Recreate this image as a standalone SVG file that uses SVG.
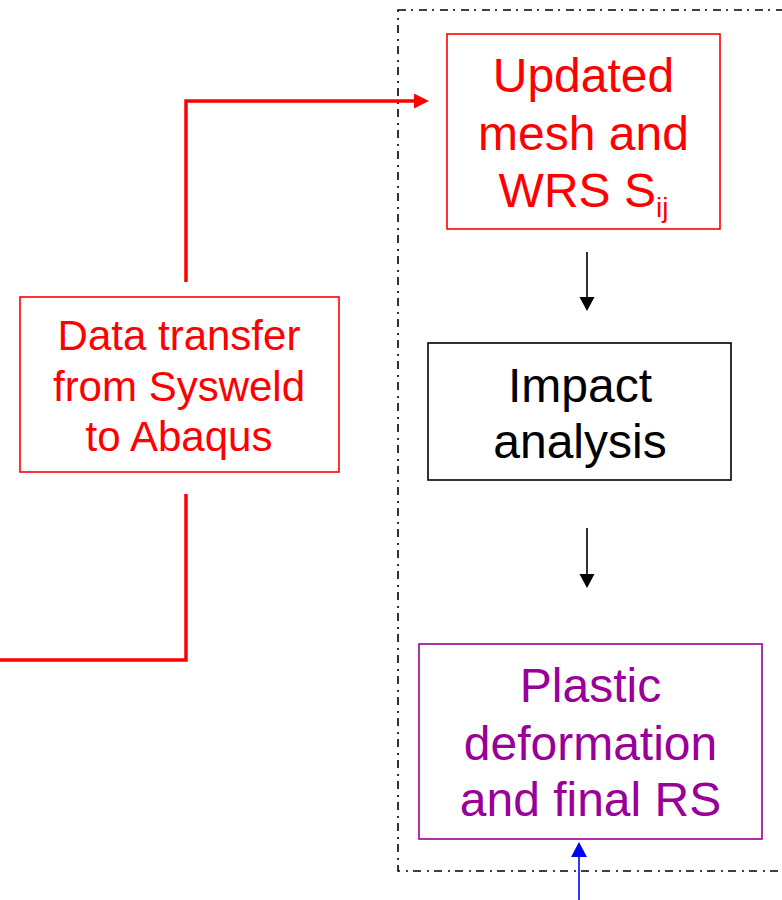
<svg xmlns="http://www.w3.org/2000/svg" width="782" height="900" viewBox="0 0 782 900">
<style>
text{font-family:"Liberation Sans",Arial,sans-serif;text-anchor:middle}
.box{fill:#fff;stroke-width:1.6}
.red{fill:#FF0000}
.pur{fill:#990099}
.blk{fill:#000}
.frame{fill:none;stroke:#000;stroke-width:1.6;stroke-dasharray:8 5 2 6}
</style>
<defs>
<marker id="ahRed" markerUnits="userSpaceOnUse" markerWidth="16" markerHeight="16" refX="0" refY="7.5" orient="auto"><path d="M0,0 L15,7.5 L0,15 Z" fill="#FF0000"/></marker>
<marker id="ahBlk" markerUnits="userSpaceOnUse" markerWidth="16" markerHeight="16" refX="0" refY="7.5" orient="auto"><path d="M0,0 L14,7.5 L0,15 Z" fill="#000"/></marker>
<marker id="ahBlue" markerUnits="userSpaceOnUse" markerWidth="16" markerHeight="17" refX="0" refY="8" orient="auto"><path d="M0,0 L15,8 L0,16 Z" fill="#0000FF"/></marker>
</defs>
<rect class="frame" x="398" y="10" width="400" height="861"/>
<g id="connectors">
<polyline points="186,282 186,101 414,101" fill="none" stroke="#FF0000" stroke-width="3.5" marker-end="url(#ahRed)"/>
<polyline points="186,494 186,660 0,660" fill="none" stroke="#FF0000" stroke-width="3.5"/>
<line x1="587" y1="252" x2="587" y2="297" stroke="#000" stroke-width="1.6" marker-end="url(#ahBlk)"/>
<line x1="587" y1="528" x2="587" y2="574" stroke="#000" stroke-width="1.6" marker-end="url(#ahBlk)"/>
<line x1="579" y1="900" x2="579" y2="857" stroke="#0000FF" stroke-width="1.6" marker-end="url(#ahBlue)"/>
</g>
<g id="updated">
<rect class="box" x="447" y="34" width="273" height="195" stroke="#FF0000"/>
<text class="red" font-size="48"><tspan x="583.5" y="92">Updated</tspan><tspan x="583.5" y="150">mesh and</tspan><tspan x="583.5" y="207">WRS S<tspan font-size="28" dy="10">ij</tspan></tspan></text>
</g>
<g id="datatransfer">
<rect class="box" x="20" y="297" width="319" height="175" stroke="#FF0000"/>
<text class="red" font-size="42"><tspan x="179" y="350">Data transfer</tspan><tspan x="179" y="401">from Sysweld</tspan><tspan x="179" y="451">to Abaqus</tspan></text>
</g>
<g id="impact">
<rect class="box" x="428" y="343" width="303" height="137" stroke="#000"/>
<text class="blk" font-size="48"><tspan x="580" y="402">Impact</tspan><tspan x="580" y="458">analysis</tspan></text>
</g>
<g id="plastic">
<rect class="box" x="419" y="644" width="343" height="195" stroke="#990099"/>
<text class="pur" font-size="48"><tspan x="590.5" y="702">Plastic</tspan><tspan x="590.5" y="760">deformation</tspan><tspan x="590.5" y="816">and final RS</tspan></text>
</g>
</svg>
